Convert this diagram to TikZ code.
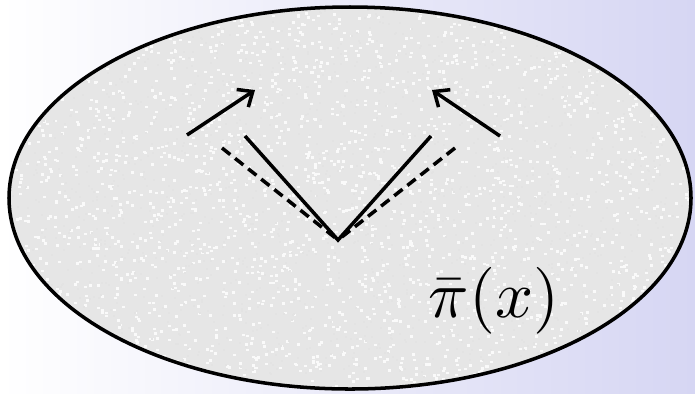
\documentclass[tikz,border=0pt]{standalone}
\usepackage{amsmath,amssymb}
\usepackage{tikz}
\usepackage{xcolor}
\usetikzlibrary{arrows.meta}

\definecolor{bglav}{RGB}{214,214,243}
\definecolor{grain}{RGB}{230,230,230}

\begin{document}
\begin{tikzpicture}[
        x=0.02cm, y=-0.02cm,
        >={Straight Barb[length=7pt,width=12pt]},
        edge/.style={line width=2pt},
        dashedge/.style={edge, dash pattern=on 6pt off 3.5pt},
        border/.style={line width=2pt, draw=black}
    ]
        \useasboundingbox (0,0) rectangle (695,393);
        \shade[left color=white, right color=bglav] (0,0) rectangle (695,393);

        % grainy region
        \fill[grain] (350,198) ellipse [x radius=341, y radius=191];
        \begin{scope}
            \clip (350,198) ellipse [x radius=341, y radius=191];
            \pgfmathsetseed{7}
            \foreach \i in {1,...,2600} {
                \pgfmathsetmacro{\gx}{rnd*695}
                \pgfmathsetmacro{\gy}{rnd*393}
                \fill[white!96!gray] (\gx,\gy) rectangle ++(3,2.5);
            }
            \foreach \i in {1,...,1600} {
                \pgfmathsetmacro{\gx}{rnd*695}
                \pgfmathsetmacro{\gy}{rnd*393}
                \fill[gray!22] (\gx,\gy) rectangle ++(2,2);
            }
        \end{scope}
        \draw[border] (350,198) ellipse [x radius=341, y radius=191];

        \coordinate (apex) at (338,240);
        \coordinate (solidL) at (245,136);
        \coordinate (solidR) at (431,136);
        \coordinate (dashL) at (222,148);
        \coordinate (dashR) at (455,148);
        \coordinate (tailL) at (187,135);
        \coordinate (tipL) at (255,90);
        \coordinate (tailR) at (500,136);
        \coordinate (tipR) at (432,90);

        \draw[edge] (solidL) -- (apex) -- (solidR);
        \draw[dashedge] (dashL) -- (apex);
        \draw[dashedge] (dashR) -- (apex);
        \draw[edge, ->] (tailL) -- (tipL);
        \draw[edge, ->] (tailR) -- (tipR);

        \node[anchor=base, scale=3.8, inner sep=0pt] (pibar) at (494,317) {$\bar{\pi}(x)$};
    \end{tikzpicture}
\end{document}
